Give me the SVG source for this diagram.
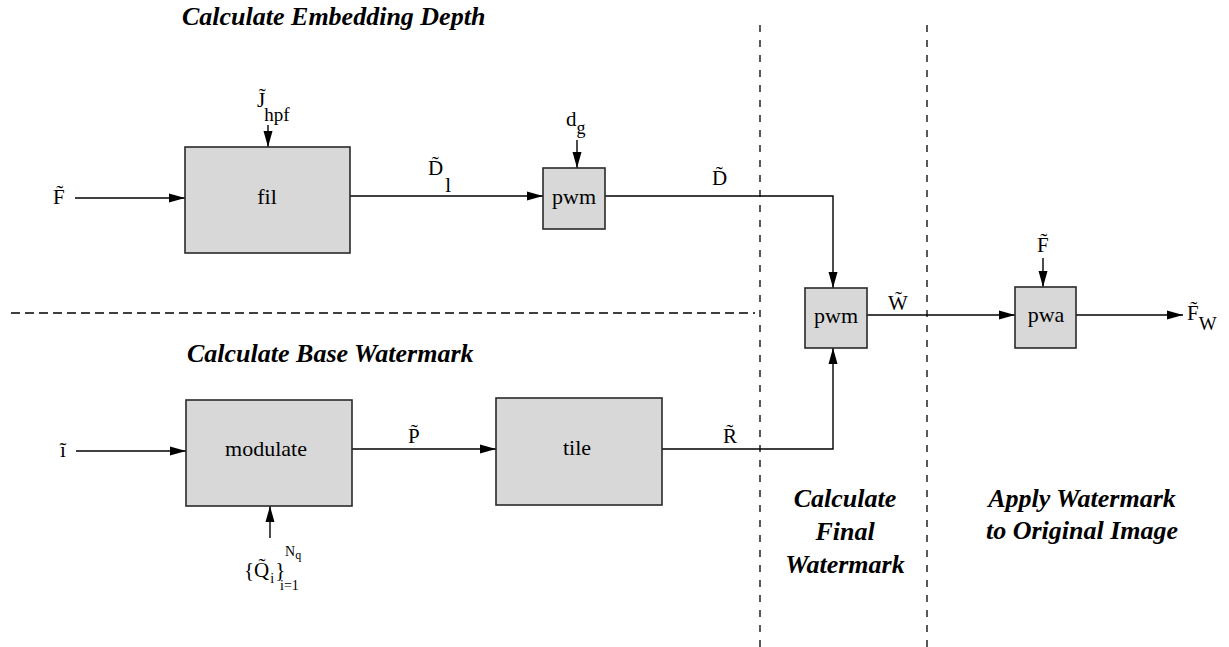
<svg xmlns="http://www.w3.org/2000/svg" width="1229" height="647" viewBox="0 0 1229 647">
<style>
text{font-family:"Liberation Serif","Times New Roman",Times,"DejaVu Serif","Noto Serif",serif;fill:#000}
.box{fill:#d8d8d8;stroke:#2a2a2a;stroke-width:1.6}
.ln{fill:none;stroke:#000;stroke-width:1.4}
.dash{fill:none;stroke:#000;stroke-width:1.3}
.m{font-size:21px}
.sm{font-size:14px}
.t{font-size:22px;text-anchor:middle}
.h{font-size:26px;font-weight:bold;font-style:italic}
.hc{font-size:26px;font-weight:bold;font-style:italic;text-anchor:middle}
</style>
<defs>
<marker id="ah" markerUnits="userSpaceOnUse" markerWidth="17" markerHeight="10" refX="16" refY="5" orient="auto">
<path d="M0,0.5 L16,5 L0,9.5 z" fill="#000"/>
</marker>
</defs>
<rect width="1229" height="647" fill="#fff"/>

<g id="regions">
<line class="dash" x1="760" y1="25" x2="760" y2="647" stroke-dasharray="7 8"/>
<line class="dash" x1="927" y1="25" x2="927" y2="647" stroke-dasharray="7 8"/>
<line class="dash" x1="11" y1="313" x2="755" y2="313" stroke-dasharray="9 5"/>
<text class="h" x="182" y="25">Calculate Embedding Depth</text>
<text class="h" x="187" y="362">Calculate Base Watermark</text>
<text class="hc" x="845" y="507">Calculate</text>
<text class="hc" x="845" y="540">Final</text>
<text class="hc" x="845" y="573">Watermark</text>
<text class="hc" x="1082" y="507">Apply Watermark</text>
<text class="hc" x="1082" y="539">to Original Image</text>
</g>

<g id="connectors">
<line class="ln" x1="75" y1="198" x2="185" y2="198" marker-end="url(#ah)"/>
<line class="ln" x1="268" y1="125" x2="268" y2="147" marker-end="url(#ah)"/>
<line class="ln" x1="350" y1="196" x2="543" y2="196" marker-end="url(#ah)"/>
<line class="ln" x1="577" y1="140" x2="577" y2="168" marker-end="url(#ah)"/>
<polyline class="ln" points="605,196 833,196 833,288" marker-end="url(#ah)"/>
<line class="ln" x1="867" y1="315" x2="1015" y2="315" marker-end="url(#ah)"/>
<line class="ln" x1="1043" y1="258" x2="1043" y2="287" marker-end="url(#ah)"/>
<line class="ln" x1="1076" y1="315" x2="1183" y2="315" marker-end="url(#ah)"/>
<line class="ln" x1="76" y1="451" x2="186" y2="451" marker-end="url(#ah)"/>
<line class="ln" x1="352" y1="449" x2="496" y2="449" marker-end="url(#ah)"/>
<polyline class="ln" points="662,449 833,449 833,348" marker-end="url(#ah)"/>
<line class="ln" x1="270" y1="538" x2="270" y2="506" marker-end="url(#ah)"/>
</g>

<g id="labels">
<text class="m" x="53" y="204">F̃</text>
<text class="m" x="257" y="107">J̃<tspan dx="-1" dy="14" font-size="19">hpf</tspan></text>
<text class="m" x="566" y="126">d<tspan dy="8" font-size="18">g</tspan></text>
<text class="m" x="428" y="175">D̃<tspan dx="2" dy="17">l</tspan></text>
<text class="m" x="712" y="185">D̃</text>
<text class="m" x="888" y="310">W̃</text>
<text class="m" x="1037" y="252">F̃</text>
<text class="m" x="1187" y="320">F̃<tspan dy="10" font-size="19">W</tspan></text>
<text class="m" x="60" y="457">ĩ</text>
<text class="m" x="408" y="443">P̃</text>
<text class="m" x="723" y="443">R̃</text>
<text class="m" x="244" y="577">{Q̃<tspan dx="1" dy="6" font-size="14">i</tspan><tspan dx="1" dy="-6">}</tspan></text>
<text class="sm" x="285" y="556">N<tspan dy="3" font-size="12">q</tspan></text>
<text class="sm" x="280" y="590">i=1</text>
</g>

<g id="node-fil"><rect class="box" x="185" y="147" width="165" height="106"/><text class="t" x="267" y="204">fil</text></g>
<g id="node-pwm1"><rect class="box" x="543" y="168" width="62" height="61"/><text class="t" x="574" y="204">pwm</text></g>
<g id="node-pwm2"><rect class="box" x="805" y="288" width="62" height="60"/><text class="t" x="836" y="323">pwm</text></g>
<g id="node-pwa"><rect class="box" x="1015" y="287" width="61" height="61"/><text class="t" x="1046" y="322">pwa</text></g>
<g id="node-modulate"><rect class="box" x="186" y="400" width="166" height="106"/><text class="t" x="266" y="456">modulate</text></g>
<g id="node-tile"><rect class="box" x="496" y="398" width="166" height="107"/><text class="t" x="577" y="455">tile</text></g>
</svg>
